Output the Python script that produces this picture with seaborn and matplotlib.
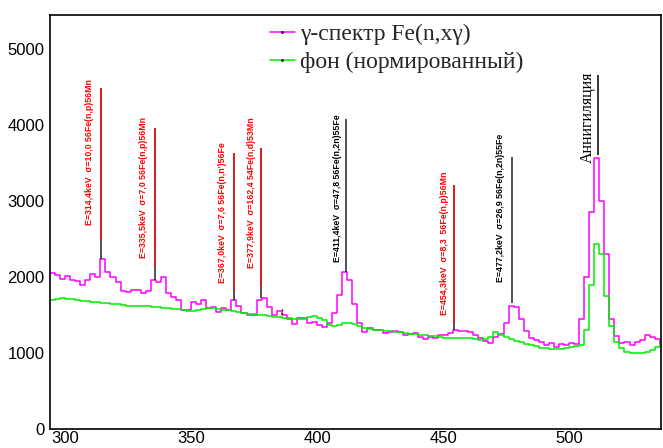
import numpy as np
import pandas as pd
import matplotlib
matplotlib.use("Agg")
import matplotlib.pyplot as plt
from matplotlib.lines import Line2D
from matplotlib.ticker import MultipleLocator
import seaborn as sns

# ---------------- data ----------------
bin_start_kev = 294
bin_width_kev = 2

gamma_counts = [
    2057, 2026, 1980, 2010, 1960, 1950, 1895, 1960, 2045, 2000,   # 294-312
    2237, 2070, 2004, 1939, 1820, 1807, 1829, 1830, 1785, 1820,   # 314-332
    1960, 1939, 1995, 1790, 1740, 1700, 1566, 1566, 1675, 1650,   # 334-352
    1700, 1588, 1610, 1544, 1588, 1566, 1697, 1620, 1522, 1500,   # 354-372
    1500, 1700, 1730, 1609, 1500, 1555, 1500, 1450, 1380, 1456,   # 374-392
    1456, 1400, 1412, 1368, 1346, 1400, 1522, 1760, 2070, 1960,   # 394-412
    1650, 1390, 1281, 1325, 1300, 1303, 1259, 1281, 1285, 1281,   # 414-432
    1237, 1245, 1259, 1205, 1180, 1215, 1195, 1237, 1237, 1259,   # 434-452
    1303, 1290, 1290, 1280, 1237, 1193, 1160, 1136, 1215, 1250,   # 454-472
    1400, 1620, 1610, 1450, 1290, 1200, 1170, 1140, 1100, 1130,   # 474-492
    1083, 1120, 1110, 1130, 1120, 1450, 2000, 2860, 3561, 3000,   # 494-512
    2300, 1450, 1220, 1130, 1149, 1105, 1149, 1171, 1237, 1215,   # 514-532
    1180, 1130,                                                   # 534-536
]

background_counts = [
    1700, 1715, 1720, 1712, 1705, 1695, 1688, 1680, 1675, 1670,   # 294-312
    1662, 1665, 1650, 1640, 1630, 1625, 1625, 1620, 1618, 1615,   # 314-332
    1610, 1605, 1598, 1595, 1585, 1578, 1565, 1555, 1552, 1565,   # 334-352
    1580, 1590, 1588, 1578, 1570, 1562, 1550, 1535, 1525, 1515,   # 354-372
    1510, 1502, 1500, 1490, 1480, 1470, 1465, 1455, 1448, 1445,   # 374-392
    1450, 1470, 1490, 1465, 1430, 1370, 1355, 1370, 1390, 1400,   # 394-412
    1385, 1360, 1330, 1315, 1305, 1300, 1292, 1288, 1280, 1272,   # 414-432
    1265, 1255, 1246, 1240, 1235, 1228, 1222, 1212, 1200, 1195,   # 434-452
    1193, 1198, 1200, 1195, 1180, 1172, 1180, 1210, 1275, 1240,   # 454-472
    1210, 1185, 1160, 1140, 1120, 1105, 1090, 1072, 1060, 1055,   # 474-492
    1050, 1055, 1070, 1083, 1095, 1110, 1300, 1900, 2440, 2300,   # 494-512
    1750, 1350, 1150, 1060, 1020, 1000, 995, 995, 1010, 1035,     # 514-532
    1080, 1130,                                                   # 534-536
]

legend_labels = ["γ-спектр Fe(n,xγ)", "фон (нормированный)"]

ann_energy = [314.4, 335.5, 367.0, 377.9, 411.4, 454.3, 477.2]
ann_text = [
    "E=314,4keV  σ=10,0 56Fe(n,p)56Mn",
    "E=335,5keV  σ=7,0 56Fe(n,p)56Mn",
    "E=367,0keV  σ=7,6 56Fe(n,n')56Fe",
    "E=377,9keV  σ=162,4 54Fe(n,d)53Mn",
    "E=411,4keV  σ=47,8 56Fe(n,2n)55Fe",
    "E=454,3keV  σ=8,3  56Fe(n,p)56Mn",
    "E=477,2keV  σ=26,9 56Fe(n,2n)55Fe",
]
ann_base = [2237, 1960, 1697, 1730, 2070, 1303, 1654]
ann_split = [2487, 2138, 1816, 1880, None, 1395, None]
ann_top = [4487, 3960, 3632, 3700, 4079, 3210, 3580]
ann_text_x = [309.6, 331.2, 362.6, 374.0, 408.1, 450.4, 472.7]
ann_text_y = [2684, 2250, 1921, 2118, 2197, 1500, 1934]
ann_is_red = [True, True, True, True, False, True, False]

annih_energy = 511.5
annih_text = "Аннигиляция"
annih_line = (3605, 4660)
annih_text_pos = (507.3, 3500)

# ---------------- styling ----------------
sns.set_style("white")
plt.rcParams["font.family"] = ["Liberation Sans", "DejaVu Sans"]

n_bins = len(gamma_counts)
centers = bin_start_kev + bin_width_kev * (np.arange(n_bins) + 0.5)
df = pd.DataFrame({"E": centers, "gamma": gamma_counts, "bg": background_counts})
bin_range = (bin_start_kev, bin_start_kev + bin_width_kev * n_bins)

fig = plt.figure(figsize=(6.63, 4.48), dpi=100)
ax = fig.add_axes([50 / 663, 1 - 429 / 448, 611 / 663, 414 / 448])

sns.histplot(data=df, x="E", weights="gamma", binwidth=bin_width_kev, binrange=bin_range,
             element="step", fill=False, color="#ff00ff", linewidth=1.1, ax=ax)
sns.histplot(data=df, x="E", weights="bg", binwidth=bin_width_kev, binrange=bin_range,
             element="step", fill=False, color="#00ee00", linewidth=1.1, ax=ax)

ax.set_xlim(294, 536.5)
ax.set_ylim(0, 5450)
ax.set_xlabel("")
ax.set_ylabel("")

# annotations
for e, txt, base, split, top, tx, ty, red in zip(ann_energy, ann_text, ann_base, ann_split,
                                                    ann_top, ann_text_x, ann_text_y, ann_is_red):
    ax.vlines(e, base, top, color="#222222", linewidth=1.1, zorder=3)
    if red:
        ax.vlines(e, split, top, color="#ff1010", linewidth=1.1, zorder=4)
    ax.text(tx, ty, txt, rotation=90, ha="center", va="bottom", fontsize=6.3,
            fontweight="bold", color="#ff0000" if red else "black",
            family=["Liberation Sans", "DejaVu Sans"])

ax.vlines(annih_energy, annih_line[0], annih_line[1], color="black", linewidth=1.1)
ax.text(annih_text_pos[0], annih_text_pos[1], annih_text, rotation=90, ha="center", va="bottom",
        fontsize=11.5, color="black", family=["Liberation Serif", "DejaVu Serif"])

# small dotted marker
ax.vlines(386.0, 1520, 1600, color="black", linewidth=1.0, linestyles=":")

# legend
handles = [
    Line2D([], [], color="#ff00ff", linewidth=1.1, marker=".", markersize=2,
           markerfacecolor="black", markeredgecolor="black"),
    Line2D([], [], color="#00ee00", linewidth=1.1, marker=".", markersize=2,
           markerfacecolor="black", markeredgecolor="black"),
]
ax.legend(handles=handles, labels=legend_labels, loc="upper left",
          bbox_to_anchor=(0.360, 0.980), frameon=False,
          prop={"family": "Liberation Serif", "size": 17},
          handlelength=1.06, handletextpad=0.22, labelspacing=0.30,
          borderaxespad=0, borderpad=0)

# axes / ticks, ROOT-like
for s in ax.spines.values():
    s.set_color("black")
    s.set_linewidth(1.2)
    s.set_visible(True)
ax.xaxis.set_major_locator(MultipleLocator(50))
ax.xaxis.set_minor_locator(MultipleLocator(10))
ax.yaxis.set_major_locator(MultipleLocator(1000))
ax.yaxis.set_minor_locator(MultipleLocator(200))
ax.tick_params(axis="both", which="both", direction="in", colors="black",
               top=False, right=False, labelsize=12)
ax.tick_params(axis="y", which="major", length=18, width=1.1, pad=4)
ax.tick_params(axis="y", which="minor", length=10, width=1.0)
ax.tick_params(axis="x", which="major", length=11, width=1.1, pad=1.5)
ax.tick_params(axis="x", which="minor", length=6, width=1.0)

fig.savefig("out.png", dpi=100)
